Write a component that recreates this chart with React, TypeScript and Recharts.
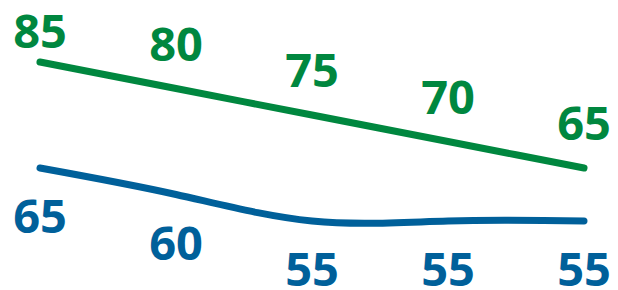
import { LineChart, Line, XAxis, YAxis, LabelList } from 'recharts';

const categories = ['A', 'B', 'C', 'D', 'E'];
const greenValues = [85, 80, 75, 70, 65];
const blueValues = [65, 60, 55, 55, 55];

const GREEN = '#00873f';
const BLUE = '#00609a';

const data = categories.map((c, i) => ({ name: c, green: greenValues[i], blue: blueValues[i] }));

const makeLabel = (color: string, dy: number, firstDy?: number) => (props: any) => {
  const { x, y, value, index } = props;
  const off = index === 0 && firstDy !== undefined ? firstDy : dy;
  return (
    <text
      x={x}
      y={y + off}
      fill={color}
      textAnchor="middle"
      dominantBaseline="central"
      style={{ fontFamily: '"Open Sans", sans-serif', fontWeight: 700, fontSize: 47 }}
    >
      {value}
    </text>
  );
};

export default function App() {
  return (
    <div style={{ position: 'absolute', left: 0, top: 0, background: '#fff' }}>
      <LineChart width={618} height={290} data={data} margin={{ top: 62, right: 34, bottom: 69, left: 40 }}>
        <XAxis dataKey="name" hide />
        <YAxis hide domain={[55, 85]} />
        <Line
          type="natural"
          dataKey="green"
          stroke={GREEN}
          strokeWidth={7}
          strokeLinecap="round"
          dot={false}
          isAnimationActive={false}
        >
          <LabelList dataKey="green" content={makeLabel(GREEN, -46, -32)} />
        </Line>
        <Line
          type="natural"
          dataKey="blue"
          stroke={BLUE}
          strokeWidth={7}
          strokeLinecap="round"
          dot={false}
          isAnimationActive={false}
        >
          <LabelList dataKey="blue" content={makeLabel(BLUE, 47)} />
        </Line>
      </LineChart>
    </div>
  );
}
